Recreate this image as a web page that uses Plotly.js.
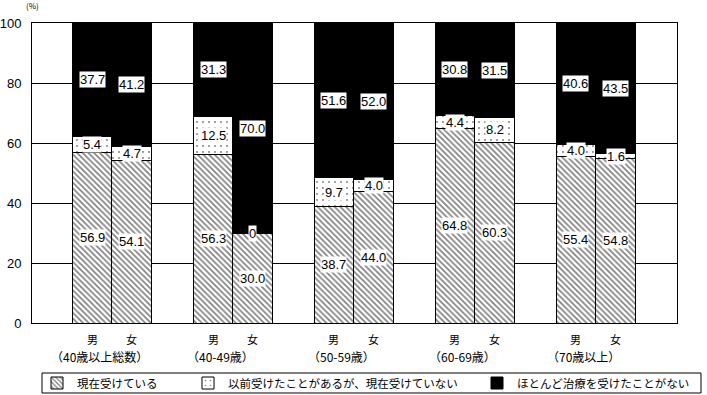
<!DOCTYPE html>
<html>
<head>
<meta charset="utf-8">
<script src="https://cdn.plot.ly/plotly-3.0.1.min.js"></script>
<style>
html,body{margin:0;padding:0;background:#fff;}
#chart{width:707px;height:395px;}
</style>
</head>
<body>
<div id="chart"></div>
<script>
// ---- data ----
const groups = ["（40歳以上総数）", "（40-49歳）", "（50-59歳）", "（60-69歳）", "（70歳以上）"];
const sexes = ["男", "女"];
const seriesNames = ["現在受けている", "以前受けたことがあるが、現在受けていない", "ほとんど治療を受けたことがない"];
// per group: [male, female]
const currentMale   = [56.9, 56.3, 38.7, 64.8, 55.4];
const currentFemale = [54.1, 30.0, 44.0, 60.3, 54.8];
const formerMale    = [5.4, 12.5, 9.7, 4.4, 4.0];
const formerFemale  = [4.7, 0, 4.0, 8.2, 1.6];
const neverMale     = [37.7, 31.3, 51.6, 30.8, 40.6];
const neverFemale   = [41.2, 70.0, 52.0, 31.5, 43.5];
const yTicks = [0, 20, 40, 60, 80, 100];

// ---- build ----
const off = 0.165, bw = 0.33;
const xs = [];
groups.forEach((g, i) => { xs.push(i - off); xs.push(i + off); });
function inter(m, f) { const r = []; m.forEach((v, i) => { r.push(v); r.push(f[i]); }); return r; }
const s1 = inter(currentMale, currentFemale);
const s2 = inter(formerMale, formerFemale);
const s3 = inter(neverMale, neverFemale);

const patterns = [
  {shape: "\\", fgcolor: "#000", bgcolor: "#fff", size: 4, solidity: 0.4, fillmode: "overlay"},
  {shape: ".", fgcolor: "#000", bgcolor: "#fff", size: 6, solidity: 0.08, fillmode: "overlay"},
  null
];
const legendIds = ["legend", "legend2", "legend3"];
const vals = [s1, s2, s3];
const traces = vals.map((v, k) => {
  const t = {
    type: "bar", x: xs, y: v, width: xs.map(() => bw), name: seriesNames[k], legend: legendIds[k],
    marker: {color: k === 2 ? "#000" : "#fff", line: {color: "#000", width: 1}},
    hoverinfo: "skip"
  };
  if (patterns[k]) t.marker.pattern = patterns[k];
  return t;
});

const fmt = v => v === 0 ? "0" : v.toFixed(1);
const annotations = [];
xs.forEach((x, j) => {
  let base = 0;
  vals.forEach((v) => {
    annotations.push({
      x: x, y: base + v[j] / 2, xref: "x", yref: "y", text: fmt(v[j]), showarrow: false,
      bgcolor: "#fff", borderpad: 0, font: {family: "Liberation Sans, Arial", size: 13, color: "#000"}
    });
    base += v[j];
  });
});
groups.forEach((g, i) => {
  annotations.push({x: i - off, y: 0, xref: "x", yref: "paper", yanchor: "middle", yshift: -16, text: sexes[0], showarrow: false,
    font: {family: "Noto Sans CJK JP", size: 11, color: "#000"}});
  annotations.push({x: i + off, y: 0, xref: "x", yref: "paper", yanchor: "middle", yshift: -16, text: sexes[1], showarrow: false,
    font: {family: "Noto Sans CJK JP", size: 11, color: "#000"}});
  annotations.push({x: i - 0.1, y: 0, xref: "x", yref: "paper", yanchor: "middle", yshift: -33, text: g, showarrow: false,
    font: {family: "Noto Sans CJK JP", size: 12, color: "#000"}});
});
annotations.push({x: 0, y: 1, xref: "paper", yref: "paper", xanchor: "center", yanchor: "middle", xshift: 0, yshift: 18,
  text: "(%)", showarrow: false, font: {family: "Noto Sans CJK JP", size: 8, color: "#000"}});

function legendAt(px) {
  return {orientation: "h", x: px / 707, xanchor: "left", xref: "container", y: 1 - 383 / 395, yanchor: "middle",
    yref: "container", font: {family: "Noto Sans CJK JP", size: 11.5, color: "#000"},
    bgcolor: "rgba(0,0,0,0)", borderwidth: 0, itemwidth: 30, itemclick: false};
}

const layout = {
  width: 707, height: 395,
  margin: {l: 32, r: 30, t: 23, b: 72},
  paper_bgcolor: "#fff", plot_bgcolor: "#fff",
  barmode: "stack",
  showlegend: true,
  legend: legendAt(37),
  legend2: legendAt(188),
  legend3: legendAt(477),
  xaxis: {range: [-0.661, 4.67], showticklabels: false, showgrid: false, zeroline: false, ticks: "",
    showline: true, linecolor: "#000", linewidth: 1, mirror: true, fixedrange: true},
  yaxis: {range: [0, 100], tickvals: yTicks, ticktext: yTicks.map(String), showgrid: true, gridcolor: "#000", gridwidth: 1,
    zeroline: false, ticks: "", ticklabelstandoff: 7, showline: true, linecolor: "#000", linewidth: 1, mirror: true,
    tickfont: {family: "Liberation Sans, Arial", size: 13, color: "#000"}, fixedrange: true},
  annotations: annotations,
  shapes: [{type: "rect", xref: "paper", yref: "paper", x0: 10 / 645, x1: 1 + 24 / 645, y0: -70 / 300, y1: -50 / 300,
    line: {color: "#000", width: 1}, fillcolor: "rgba(0,0,0,0)"}]
};
Plotly.newPlot("chart", traces, layout, {displayModeBar: false, staticPlot: true});
</script>
</body>
</html>
